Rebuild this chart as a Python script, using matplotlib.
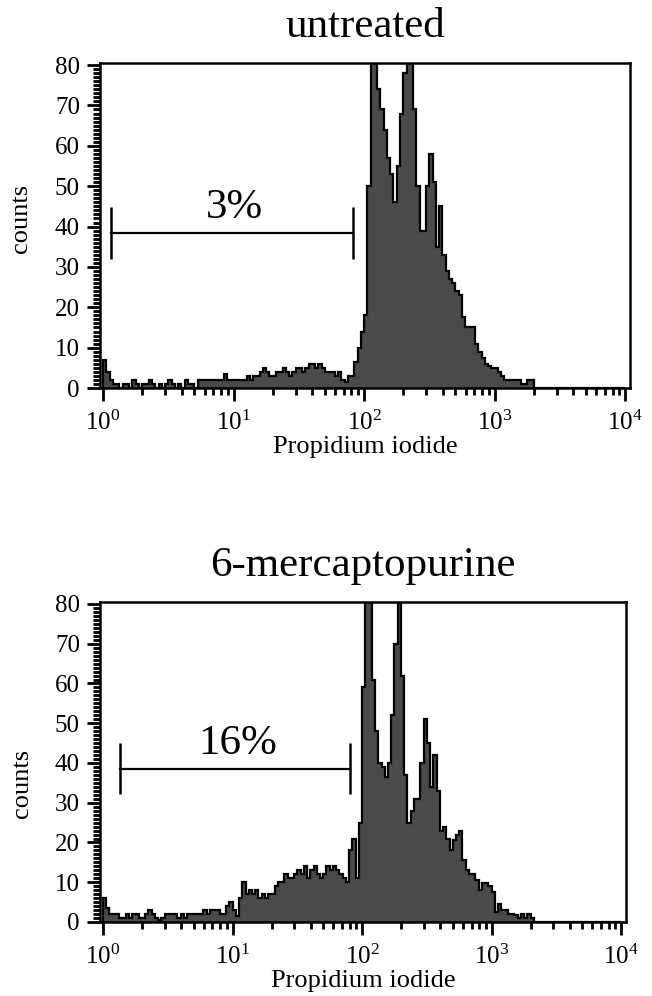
import numpy as np
import matplotlib
matplotlib.use("Agg")
import matplotlib.pyplot as plt
from matplotlib.ticker import MultipleLocator, LogLocator, NullFormatter, FixedLocator, FixedFormatter

plt.rcParams['font.family'] = ['Liberation Serif', 'DejaVu Serif']
plt.rcParams['mathtext.fontset'] = 'custom'
plt.rcParams['mathtext.rm'] = 'Liberation Serif'
plt.rcParams['mathtext.it'] = 'Liberation Serif:italic'

# 160 log channels, 0.025 decade each, from 10^0 to 10^4
n_bins = 160

# untreated - counts per channel (one row = one decade)
untreated_counts = [
    7, 4, 2, 1, 1, 0, 1, 1, 0, 2, 1, 0, 1, 1, 2, 1, 0, 1, 0, 1,
    2, 1, 0, 1, 0, 2, 1, 1, 0, 2, 2, 2, 2, 2, 2, 2, 2, 3.5, 2, 2,
    2, 2, 2, 2, 3, 2, 3, 3, 4, 5, 4, 3, 3, 4, 4, 5, 4, 3, 4, 5,
    5, 4, 5, 6, 6, 5, 6, 5, 4, 4, 4, 3, 4, 2, 1.5, 3, 3, 6.5, 10, 14,
    18, 50, 85, 90, 74, 69, 64, 57, 53, 46, 55, 68, 78, 85, 90, 69, 50, 39, 39, 50,
    58, 51, 35, 45, 33, 29, 27, 26, 24, 23, 17.6, 15, 15, 15, 11, 9, 7.5, 6, 5.5, 5,
    5, 4, 3, 2, 2, 2, 2, 2, 1, 1, 2, 2, 0, 0, 0, 0, 0, 0, 0, 0,
    0, 0, 0, 0, 0, 0, 0, 0, 0, 0, 0, 0, 0, 0, 0, 0, 0, 0, 0, 0,
]

# 6-mercaptopurine - counts per channel
mp_counts = [
    6, 3.5, 2, 2, 2, 1, 1, 2, 1, 2, 2, 1, 1, 2, 3, 2, 1, 0.5, 1, 2,
    2, 2, 2, 1, 2, 1, 2, 2, 2, 2, 2, 3, 2, 3, 3, 3, 2, 2, 4, 5,
    3, 1.5, 6, 10, 7, 8, 7, 8, 6, 7, 6, 7, 7, 9, 10, 10, 12, 11, 11, 12,
    13, 12, 14, 11, 13, 14, 12, 11, 12, 14, 13, 14, 13, 12, 11, 10, 18, 21, 11, 25,
    59, 90, 90, 61, 48, 40, 39, 36.5, 40, 52, 70, 90, 62, 37, 25, 28, 31, 31, 40, 51,
    45, 34, 42, 33, 23, 24, 21, 18, 20.6, 22, 23, 15.5, 13, 12, 12, 10.5, 8, 9.7, 9.7, 9,
    7.5, 2.5, 4.6, 3, 3, 2, 2, 1.7, 1, 2, 1, 2, 1, 0, 0, 0, 0, 0, 0, 0,
    0, 0, 0, 0, 0, 0, 0, 0, 0, 0, 0, 0, 0, 0, 0, 0, 0, 0, 0, 0,
]

titles = ["untreated", "6-mercaptopurine"]
gate_labels = ["3%", "16%"]
gate_ranges = [(1.15, 82.4), (1.35, 81.0)]
gate_y = [38.4, 38.6]
ylabel_pos = [0.523, 0.434]   # where "counts" sits on each panel (axes fraction)

x_ticks = [1, 10, 100, 1000, 10000]
x_tick_labels = [r'$10^{0}$', r'$10^{1}$', r'$10^{2}$', r'$10^{3}$', r'$10^{4}$']
y_ticks = [0, 10, 20, 30, 40, 50, 60, 70, 80]

edges = 10 ** np.linspace(0, 4, n_bins + 1)
fill_col = '#4a4a4a'


def panel(ax, counts, title, glabel, grange, gy, ly):
    counts = np.array(counts, dtype=float)
    ax.stairs(counts, edges, fill=True, color=fill_col, lw=0)
    ax.stairs(counts, edges, color='black', lw=1.6)

    # gate marker
    ax.plot(grange, [gy, gy], color='black', lw=1.6)
    ax.vlines(grange, gy - 6.5, gy + 6.5, color='black', lw=1.8)
    mid = (np.log10(grange[0]) + np.log10(grange[1])) / 2
    ax.text(10 ** (mid + 0.02), gy + 1.4, glabel, ha='center', va='bottom', fontsize=31)

    ax.set_xscale('log')
    ax.set_xlim(10 ** -0.023, 10 ** 4.037)
    ax.set_ylim(0, 80.5)

    ax.xaxis.set_major_locator(FixedLocator(x_ticks))
    ax.xaxis.set_major_formatter(FixedFormatter(x_tick_labels))
    ax.xaxis.set_minor_locator(LogLocator(base=10, subs=np.arange(2, 10), numticks=20))
    ax.xaxis.set_minor_formatter(NullFormatter())
    ax.yaxis.set_major_locator(FixedLocator(y_ticks))
    ax.yaxis.set_minor_locator(MultipleLocator(1))

    ax.tick_params(which='major', direction='out', length=9.5, width=2, labelsize=18, pad=5)
    ax.tick_params(which='minor', direction='out', length=5, width=2)
    ax.tick_params(axis='x', which='major', pad=7)
    for s in ax.spines.values():
        s.set_linewidth(1.8)

    ax.set_xlabel("Propidium iodide", fontsize=19, labelpad=0.5)
    ax.set_ylabel("counts", fontsize=19)
    ax.yaxis.set_label_coords(-0.128, ly)
    ax.set_title(title, fontsize=31, pad=19)


fig = plt.figure(figsize=(6.52, 9.96), dpi=100)
ax1 = fig.add_axes([0.1534, 0.6104, 0.8129, 0.3263])
ax2 = fig.add_axes([0.1534, 0.0743, 0.8067, 0.3213])

panel(ax1, untreated_counts, titles[0], gate_labels[0], gate_ranges[0], gate_y[0], ylabel_pos[0])
panel(ax2, mp_counts, titles[1], gate_labels[1], gate_ranges[1], gate_y[1], ylabel_pos[1])

fig.savefig("out.png", dpi=100)
